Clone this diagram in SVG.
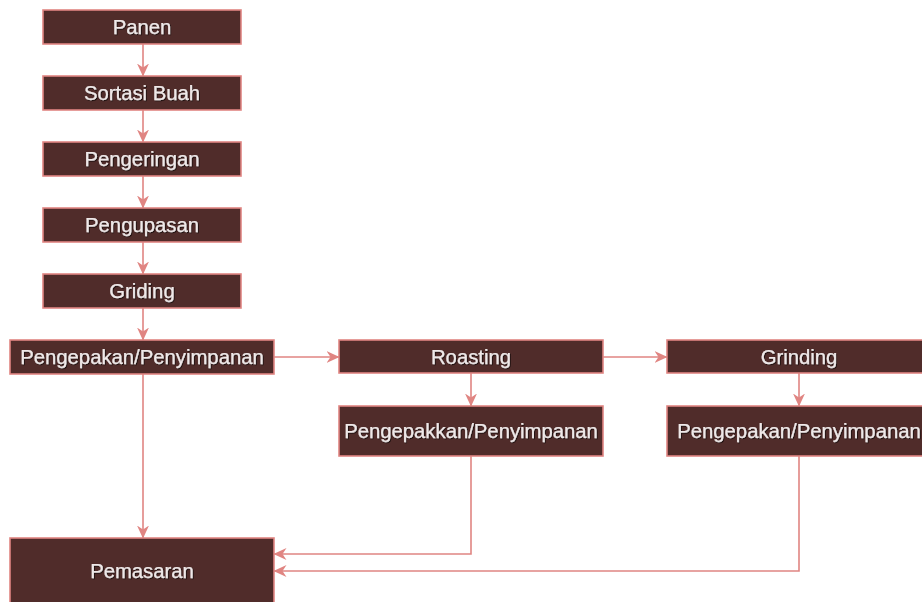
<svg xmlns="http://www.w3.org/2000/svg" width="922" height="602" viewBox="0 0 922 602">
<style>
.box{fill:#502c2a;stroke:#e08582;stroke-width:1.6}
.lbl{font-family:"Liberation Sans",Arial,sans-serif;font-size:20.3px;fill:#efe9e9;text-anchor:middle;filter:url(#sh);stroke:#efe9e9;stroke-width:0.25}
.con{fill:none;stroke:#e08582;stroke-width:1.6}
</style>
<defs>
<filter id="sh" x="-10%" y="-30%" width="120%" height="160%">
<feDropShadow dx="0.8" dy="0.8" stdDeviation="0.6" flood-color="#000" flood-opacity="0.75"/>
</filter>
<marker id="ah" viewBox="0 0 13 12" refX="12.5" refY="6" markerWidth="13" markerHeight="12" markerUnits="userSpaceOnUse" orient="auto">
<path d="M0,0 L13,6 L0,12 L4,6 z" fill="#e08582"/>
</marker>
</defs>
<rect width="922" height="602" fill="#fff"/>
<g id="connectors">
<line class="con" x1="143" y1="44" x2="143" y2="76" marker-end="url(#ah)"/>
<line class="con" x1="143" y1="110" x2="143" y2="142" marker-end="url(#ah)"/>
<line class="con" x1="143" y1="176" x2="143" y2="208" marker-end="url(#ah)"/>
<line class="con" x1="143" y1="242" x2="143" y2="274" marker-end="url(#ah)"/>
<line class="con" x1="143" y1="308" x2="143" y2="340" marker-end="url(#ah)"/>
<line class="con" x1="274" y1="357" x2="339" y2="357" marker-end="url(#ah)"/>
<line class="con" x1="603" y1="357" x2="667" y2="357" marker-end="url(#ah)"/>
<line class="con" x1="471" y1="373" x2="471" y2="406" marker-end="url(#ah)"/>
<line class="con" x1="799" y1="373" x2="799" y2="406" marker-end="url(#ah)"/>
<line class="con" x1="143" y1="374" x2="143" y2="538" marker-end="url(#ah)"/>
<polyline class="con" points="471,456 471,554 274,554" marker-end="url(#ah)"/>
<polyline class="con" points="799,456 799,571 274,571" marker-end="url(#ah)"/>
</g>
<g id="panen"><rect class="box" x="43" y="10" width="198" height="34"/><text class="lbl" x="142" y="34">Panen</text></g>
<g id="sortasi"><rect class="box" x="43" y="76" width="198" height="34"/><text class="lbl" x="142" y="100">Sortasi Buah</text></g>
<g id="pengeringan"><rect class="box" x="43" y="142" width="198" height="34"/><text class="lbl" x="142" y="166">Pengeringan</text></g>
<g id="pengupasan"><rect class="box" x="43" y="208" width="198" height="34"/><text class="lbl" x="142" y="232">Pengupasan</text></g>
<g id="griding"><rect class="box" x="43" y="274" width="198" height="34"/><text class="lbl" x="142" y="298">Griding</text></g>
<g id="pengepakan1"><rect class="box" x="10" y="340" width="264" height="34"/><text class="lbl" x="142" y="364">Pengepakan/Penyimpanan</text></g>
<g id="roasting"><rect class="box" x="339" y="340" width="264" height="33"/><text class="lbl" x="471" y="364">Roasting</text></g>
<g id="grinding"><rect class="box" x="667" y="340" width="264" height="33"/><text class="lbl" x="799" y="364">Grinding</text></g>
<g id="pengepakan2"><rect class="box" x="339" y="406" width="264" height="50"/><text class="lbl" x="471" y="438">Pengepakkan/Penyimpanan</text></g>
<g id="pengepakan3"><rect class="box" x="667" y="406" width="264" height="50"/><text class="lbl" x="799" y="438">Pengepakan/Penyimpanan</text></g>
<g id="pemasaran"><rect class="box" x="10" y="538" width="264" height="70"/><text class="lbl" x="142" y="578">Pemasaran</text></g>
</svg>
